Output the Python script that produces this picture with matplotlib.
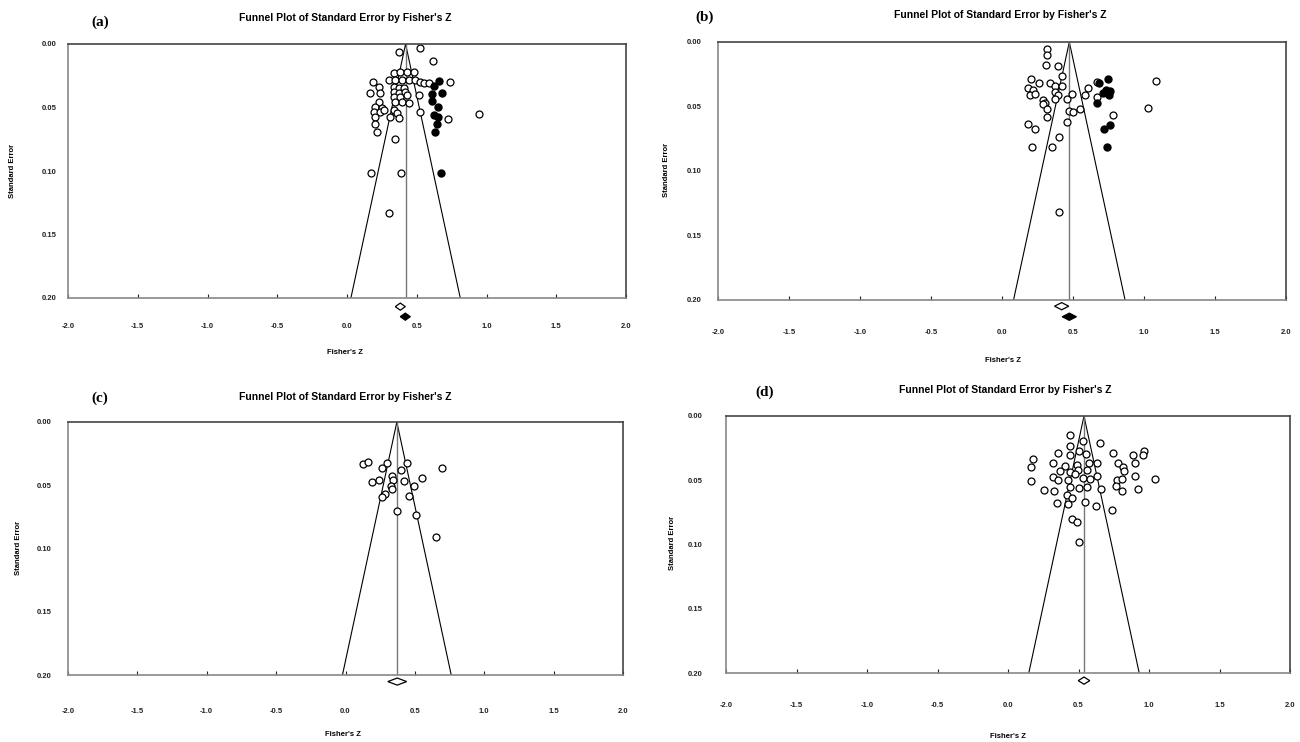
import numpy as np
import matplotlib
matplotlib.use("Agg")
import matplotlib.pyplot as plt
from matplotlib.patches import Polygon

plt.rcParams['font.family'] = ['Liberation Sans', 'DejaVu Sans']

# panel (a) - observed (open) and imputed (filled) studies
za_open = [0.370, 0.526, 0.616, 0.335, 0.382, 0.430, 0.478, 0.299, 0.184, 0.346, 0.394, 0.442,
           0.490, 0.526, 0.550, 0.590, 0.741, 0.227, 0.167, 0.239, 0.335, 0.370, 0.406, 0.335,
           0.370, 0.418, 0.335, 0.382, 0.430, 0.346, 0.394, 0.442, 0.514, 0.227, 0.203, 0.251,
           0.191, 0.239, 0.263, 0.335, 0.358, 0.311, 0.370, 0.203, 0.526, 0.724, 0.944, 0.203,
           0.215, 0.346, 0.174, 0.389, 0.303]
sea_open = [0.006, 0.0034, 0.0131, 0.0231, 0.0218, 0.0218, 0.0218, 0.0283, 0.0297, 0.0283, 0.0283, 0.0283,
            0.0283, 0.0297, 0.031, 0.031, 0.0302, 0.0336, 0.0388, 0.0388, 0.0336, 0.0349, 0.0349, 0.0375,
            0.0388, 0.0375, 0.0415, 0.0415, 0.0402, 0.0454, 0.0454, 0.0462, 0.0402, 0.0454, 0.0493, 0.0507,
            0.0533, 0.0533, 0.052, 0.052, 0.0546, 0.0572, 0.0585, 0.0572, 0.0533, 0.0593, 0.0554, 0.0633,
            0.0696, 0.0751, 0.1018, 0.1018, 0.1333]
za_fill = [0.662, 0.621, 0.681, 0.609, 0.609, 0.652, 0.621, 0.652, 0.645, 0.633, 0.671]
sea_fill = [0.0289, 0.0328, 0.0388, 0.0396, 0.0446, 0.0493, 0.0559, 0.0577, 0.063, 0.069, 0.1018]

# panel (b)
zb_open = [0.315, 0.319, 0.310, 0.392, 0.420, 0.202, 0.263, 0.338, 0.373, 0.420, 0.185, 0.221,
           0.197, 0.232, 0.373, 0.397, 0.291, 0.303, 0.286, 0.455, 0.491, 0.373, 0.585, 0.608,
           0.667, 0.667, 0.319, 0.474, 0.498, 0.549, 0.319, 0.455, 0.779, 0.185, 0.232, 0.404,
           0.214, 0.350, 1.085, 1.026, 0.401]
seb_open = [0.0054, 0.0101, 0.0178, 0.0186, 0.0261, 0.0289, 0.0315, 0.032, 0.0341, 0.0341, 0.0359, 0.0372,
            0.0411, 0.0403, 0.0385, 0.0411, 0.045, 0.047, 0.048, 0.0444, 0.0403, 0.0444, 0.0411, 0.0359,
            0.0307, 0.0424, 0.0519, 0.0535, 0.054, 0.0519, 0.0584, 0.0625, 0.0566, 0.0638, 0.0677, 0.0734,
            0.0817, 0.0817, 0.0302, 0.0514, 0.132]
zb_fill = [0.749, 0.685, 0.732, 0.761, 0.714, 0.756, 0.667, 0.761, 0.718, 0.737]
seb_fill = [0.0289, 0.0315, 0.0372, 0.0377, 0.0398, 0.0411, 0.0475, 0.0643, 0.0677, 0.0817]

# panel (c)
zc_open = [0.128, 0.161, 0.296, 0.265, 0.445, 0.402, 0.698, 0.193, 0.241, 0.337, 0.344, 0.421,
           0.554, 0.493, 0.325, 0.337, 0.284, 0.265, 0.457, 0.368, 0.505, 0.650]
sec_open = [0.0331, 0.0318, 0.0325, 0.0365, 0.0325, 0.0378, 0.0365, 0.0478, 0.0457, 0.043, 0.0457, 0.047,
            0.0444, 0.0509, 0.0509, 0.053, 0.0567, 0.0593, 0.0583, 0.0701, 0.0735, 0.0908]

# panel (d)
zd_open = [0.440, 0.530, 0.652, 0.440, 0.504, 0.357, 0.440, 0.551, 0.747, 0.884, 0.965, 0.955,
           0.180, 0.163, 0.322, 0.783, 0.901, 0.404, 0.487, 0.577, 0.629, 0.369, 0.440, 0.499,
           0.563, 0.818, 0.823, 0.322, 0.357, 0.428, 0.475, 0.530, 0.582, 0.629, 0.771, 0.806,
           0.901, 1.043, 0.163, 0.258, 0.329, 0.440, 0.504, 0.563, 0.657, 0.766, 0.811, 0.920,
           0.416, 0.452, 0.350, 0.428, 0.546, 0.624, 0.735, 0.452, 0.492, 0.504]
sed_open = [0.0148, 0.0192, 0.0213, 0.0233, 0.027, 0.0286, 0.0303, 0.0296, 0.0286, 0.0303, 0.027, 0.0303,
            0.0337, 0.0394, 0.0364, 0.0364, 0.0369, 0.0389, 0.0381, 0.0369, 0.0369, 0.0425, 0.0433, 0.042,
            0.042, 0.0394, 0.0425, 0.0478, 0.0498, 0.0498, 0.0451, 0.0485, 0.0493, 0.0467, 0.0498, 0.0493,
            0.0467, 0.049, 0.0505, 0.0576, 0.0583, 0.0555, 0.0563, 0.0549, 0.0568, 0.0544, 0.0581, 0.0571,
            0.0614, 0.0641, 0.0675, 0.0685, 0.0667, 0.07, 0.0731, 0.0804, 0.0823, 0.0978]

# funnel centre and summary diamonds (observed / adjusted)
centres = [0.42, 0.474, 0.37, 0.539]
diam_open = [(0.382, 0.2068), (0.420, 0.2052), (0.373, 0.2052), (0.539, 0.2057)]
diam_fill = [(0.418, 0.2147), (0.474, 0.2134), None, None]
labels = ['(a)', '(b)', '(c)', '(d)']
title = "Funnel Plot of Standard Error by Fisher's Z"

fig = plt.figure(figsize=(13, 7.42), dpi=100)

# axes rects in pixels: left, right, top, bottom
rects = [(68, 626, 44, 298), (718, 1286, 42, 299.5), (68, 623, 422, 675), (726, 1290, 416, 673.3)]
xpads = [18, 21, 24, 21]
ypads = [8, 12, 12, 17]
title_pos = [(345, 18), (1000, 15), (345, 397), (1005, 390)]
lab_pos = [(100, 22), (705, 17), (100, 398), (765, 392)]
ylab_pos = [(13, 171), (667, 170), (18, 548), (673, 543)]
xlab_pos = [(345, 352), (1003, 361), (343, 735), (1008, 736)]
dw = [0.036, 0.05, 0.068, 0.041]

opens = [(za_open, sea_open), (zb_open, seb_open), (zc_open, sec_open), (zd_open, sed_open)]
fills = [(za_fill, sea_fill), (zb_fill, seb_fill), None, None]

W, H = 1300.0, 742.0
for i in range(4):
    l, r, t, b = rects[i]
    ax = fig.add_axes([l / W, 1 - b / H, (r - l) / W, (b - t) / H])
    ax.set_xlim(-2, 2)
    ax.set_ylim(0.2, 0)
    c = centres[i]
    # funnel
    ax.plot([c - 1.96 * 0.2, c, c + 1.96 * 0.2], [0.2, 0, 0.2], color='black', lw=0.8)
    ax.plot([c, c], [0, 0.2], color='#777777', lw=1.0)
    zo, so = opens[i]
    ax.plot(zo, so, 'o', ms=5, mfc='white', mec='black', mew=0.9, ls='none')
    if fills[i] is not None:
        zf, sf = fills[i]
        ax.plot(zf, sf, 'o', ms=5, mfc='black', mec='black', ls='none')
    # diamonds below the axis
    hw, hh = dw[i], 0.0028
    zx, sy = diam_open[i]
    ax.add_patch(Polygon([[zx - hw, sy], [zx, sy - hh], [zx + hw, sy], [zx, sy + hh]], closed=True,
                         fc='white', ec='black', lw=0.9, clip_on=False))
    if diam_fill[i] is not None:
        zx, sy = diam_fill[i]
        ax.add_patch(Polygon([[zx - hw, sy], [zx, sy - hh], [zx + hw, sy], [zx, sy + hh]], closed=True,
                             fc='black', ec='black', lw=0.9, clip_on=False))
    ax.set_xticks(np.arange(-2, 2.01, 0.5))
    ax.set_yticks([0, 0.05, 0.10, 0.15, 0.20])
    ax.set_xticklabels(['%.1f' % v for v in np.arange(-2, 2.01, 0.5)])
    ax.set_yticklabels(['%.2f' % v for v in [0, 0.05, 0.10, 0.15, 0.20]])
    ax.tick_params(axis='x', direction='in', length=3, pad=xpads[i], labelsize=5.5, colors='#222222')
    ax.tick_params(axis='y', direction='in', length=0, pad=ypads[i], labelsize=5.5, colors='#222222')
    for lbl in ax.get_xticklabels() + ax.get_yticklabels():
        lbl.set_fontweight('bold')
    for s in ['top', 'right']:
        ax.spines[s].set_color('#444444')
        ax.spines[s].set_linewidth(1.2)
    for s in ['left', 'bottom']:
        ax.spines[s].set_color('#888888')
        ax.spines[s].set_linewidth(1.2)

    tx, ty = title_pos[i]
    fig.text(tx / W, 1 - ty / H, title, ha='center', va='center', fontsize=7.5, fontweight='bold')
    lx, ly = lab_pos[i]
    fig.text(lx / W, 1 - ly / H, labels[i], ha='center', va='center', fontsize=11,
             fontweight='bold', family='Liberation Serif')
    yx, yy = ylab_pos[i]
    fig.text(yx / W, 1 - yy / H, 'Standard Error', ha='center', va='center', rotation=90,
             fontsize=5.5, fontweight='bold')
    xx, xy = xlab_pos[i]
    fig.text(xx / W, 1 - xy / H, "Fisher's Z", ha='center', va='center', fontsize=5.5, fontweight='bold')

fig.savefig('out.png', dpi=100)
